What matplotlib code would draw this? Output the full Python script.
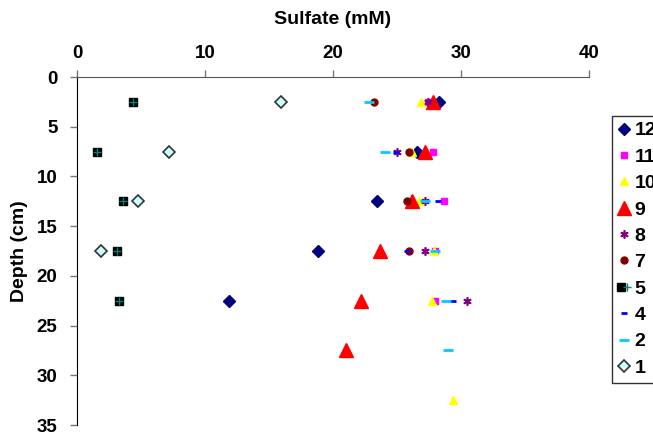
import matplotlib
matplotlib.use('Agg')
import matplotlib.pyplot as plt
from matplotlib.legend_handler import HandlerTuple

plt.rcParams['font.family'] = ['Liberation Sans', 'DejaVu Sans']
plt.rcParams['font.weight'] = 'bold'

# depth of each sample (cm)
depth = [2.5, 7.5, 12.5, 17.5, 22.5, 27.5, 32.5]

# sulfate (mM) per core
s12 = [28.3, 26.6, 23.4, 18.8, 11.9]
s11 = [27.4, 27.8, 28.7, 28.0, 28.0]
s10 = [26.9, 26.2, 26.7, 27.9, 27.7, None, 29.4]
s9 = [27.8, 27.2, 26.2, 23.7, 22.2, 21.0]
s8 = [27.4, 25.0, 27.2, 27.2, 30.5]
s7 = [23.2, 25.9, 25.8, 25.9]
s5 = [4.4, 1.6, 3.6, 3.1, 3.3]
s4 = [None, 24.9, 28.2, 25.8, 29.4]
s2 = [22.8, 24.1, 27.2, 28.0, 28.8, 29.0]
s1 = [15.9, 7.2, 4.8, 1.9]


def pts(vals):
    xs, ys = [], []
    for v, d in zip(vals, depth):
        if v is not None:
            xs.append(v)
            ys.append(d)
    return xs, ys


fig = plt.figure(figsize=(6.53, 4.36), dpi=100)
ax = fig.add_axes([77 / 653, 1 - 425 / 436, 512 / 653, 348 / 436])

handles = []
labels = []

x, y = pts(s12)
h, = ax.plot(x, y, 'D', ms=6.5, color='#000080', mec='#000080', ls='none')
handles.append(h); labels.append('12')

x, y = pts(s11)
h, = ax.plot(x, y, 's', ms=5, color='#FF00FF', ls='none')
handles.append(h); labels.append('11')

x, y = pts(s10)
h, = ax.plot(x, y, '^', ms=5.5, color='#FFFF00', ls='none')
handles.append(h); labels.append('10')

x, y = pts(s9)
h, = ax.plot(x, y, '^', ms=10, color='#FF0000', ls='none')
handles.append(h); labels.append('9')

x, y = pts(s8)
h, = ax.plot(x, y, marker=(6, 2, 0), ms=6, color='#800080', mew=1.2, ls='none')
handles.append(h); labels.append('8')

x, y = pts(s7)
h, = ax.plot(x, y, 'o', ms=5, color='#800000', ls='none')
handles.append(h); labels.append('7')

x, y = pts(s5)
h1, = ax.plot(x, y, 's', ms=6, color='black', ls='none')
h2, = ax.plot(x, y, '+', ms=6, color='#008080', mew=1, ls='none')
handles.append((h1, h2)); labels.append('5')

x, y = pts(s4)
h, = ax.plot(x, y, '_', ms=5, color='#0000FF', mew=2, ls='none')
handles.append(h); labels.append('4')

x, y = pts(s2)
h, = ax.plot(x, y, '_', ms=7, color='#00CCFF', mew=2, ls='none')
handles.append(h); labels.append('2')

x, y = pts(s1)
h, = ax.plot(x, y, 'D', ms=6.5, mfc='#CCFFFF', mec='#333333', mew=1.2, ls='none')
handles.append(h); labels.append('1')

ax.set_xlim(0, 40)
ax.set_ylim(35, 0)
ax.set_xticks([0, 10, 20, 30, 40])
ax.set_yticks([0, 5, 10, 15, 20, 25, 30, 35])
ax.xaxis.tick_top()
ax.xaxis.set_label_position('top')
ax.spines['right'].set_visible(False)
ax.spines['bottom'].set_visible(False)
ax.spines['top'].set_color('#555555')
ax.spines['left'].set_color('black')
ax.tick_params(axis='both', direction='out', length=5, width=1,
               color='#777777', labelsize=13.5)
ax.tick_params(axis='x', pad=6)
ax.tick_params(axis='y', pad=9)
ax.set_xlabel('Sulfate (mM)', fontsize=14, fontweight='bold', labelpad=15)
ax.set_ylabel('Depth (cm)', fontsize=14, fontweight='bold', labelpad=6)

leg = fig.legend(handles, labels, loc='upper left',
                 bbox_to_anchor=(612 / 653, 1 - 116 / 436),
                 handler_map={tuple: HandlerTuple(ndivide=None, pad=0)},
                 fontsize=14, frameon=True, fancybox=False, borderpad=0.3,
                 labelspacing=0.45, handlelength=0.6, handletextpad=0.25,
                 borderaxespad=0)
leg.get_frame().set_edgecolor('black')
leg.get_frame().set_linewidth(1)
for t in leg.get_texts():
    t.set_fontweight('bold')

fig.savefig('out.png', dpi=100)
